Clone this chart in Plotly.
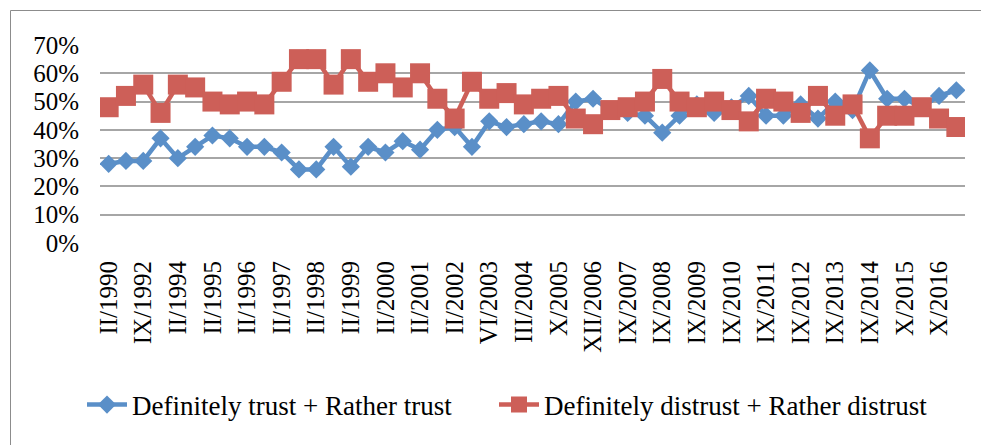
import plotly.graph_objects as go

tick_labels = ["II/1990", "IX/1992", "II/1994", "II/1995", "II/1996", "II/1997", "II/1998",
               "II/1999", "II/2000", "II/2001", "II/2002", "VI/2003", "III/2004", "X/2005",
               "XII/2006", "IX/2007", "IX/2008", "IX/2009", "IX/2010", "IX/2011", "IX/2012",
               "IX/2013", "IX/2014", "X/2015", "X/2016"]

trust = [28, 29, 29, 37, 30, 34, 38, 37, 34, 34, 32, 26, 26, 34, 27, 34, 32, 36, 33, 40,
         41, 34, 43, 41, 42, 43, 42, 50, 51, 47, 46, 45, 39, 45, 49, 46, 48, 52, 45, 45,
         49, 44, 50, 47, 61, 51, 51, 48, 52, 54]
distrust = [48, 52, 56, 46, 56, 55, 50, 49, 50, 49, 57, 65, 65, 56, 65, 57, 60, 55, 60, 51,
            44, 57, 51, 53, 49, 51, 52, 44, 42, 47, 48, 50, 58, 50, 48, 50, 47, 43, 51, 50,
            46, 52, 45, 49, 37, 45, 45, 48, 44, 41]

x = list(range(len(trust)))
trust_f = [v / 100 for v in trust]
distrust_f = [v / 100 for v in distrust]

BLUE = "#5A8FC8"
RED = "#CD5F58"
FONT = "Times New Roman, Liberation Serif, DejaVu Serif, serif"

fig = go.Figure()
fig.add_trace(go.Scatter(
    x=x, y=trust_f, mode="lines+markers", name="Definitely trust + Rather trust",
    line=dict(color=BLUE, width=4.5),
    marker=dict(symbol="diamond", size=14, color=BLUE),
    legend="legend",
))
fig.add_trace(go.Scatter(
    x=x, y=distrust_f, mode="lines+markers", name="Definitely distrust + Rather distrust",
    line=dict(color=RED, width=4.5),
    marker=dict(symbol="square", size=20, color=RED),
    legend="legend2",
))

# the page body adds an 8px offset; coordinates below are in screen pixels
OFF = 8
W, H = 989 - OFF, 445 - OFF
L, R, T = 100 - OFF, 24, 45 - OFF
B = H - T - 198
pw = W - L - R
ph = H - T - B

def px_x(p):
    return (p - OFF - L) / pw

def px_y(p):
    return (T + ph - (p - OFF)) / ph

legend_common = dict(
    orientation="h", xanchor="left", y=px_y(405), yanchor="middle",
    font=dict(family=FONT, size=27, color="black"),
    itemwidth=40, bgcolor="rgba(0,0,0,0)",
)

fig.update_layout(
    width=W, height=H,
    margin=dict(l=L, r=R, t=T, b=B, pad=0, autoexpand=False),
    paper_bgcolor="white", plot_bgcolor="white",
    font=dict(family=FONT, size=25, color="black"),
    showlegend=True,
    legend=dict(x=px_x(82), **legend_common),
    legend2=dict(x=px_x(494), **legend_common),
    xaxis=dict(
        range=[-0.5, len(x) - 0.5],
        tickmode="array",
        tickvals=x[::2],
        ticktext=tick_labels,
        tickangle=-90,
        showgrid=False, zeroline=False, showline=False, automargin=False,
        ticks="", ticklabelstandoff=12,
        tickfont=dict(family=FONT, size=25, color="black"),
    ),
    yaxis=dict(
        range=[0, 0.7],
        tickmode="array",
        tickvals=[0, 0.1, 0.2, 0.3, 0.4, 0.5, 0.6, 0.7],
        tickformat=".0%",
        showgrid=True, gridcolor="#A6A6A6", gridwidth=1.5, automargin=False,
        zeroline=False, showline=False, ticks="", ticklabelstandoff=20,
        tickfont=dict(family=FONT, size=25, color="black"),
    ),
    shapes=[dict(
        type="rect", xref="paper", yref="paper",
        x0=px_x(10.5), x1=px_x(1000), y0=px_y(460), y1=px_y(10.5),
        line=dict(color="#8C8C8C", width=1), fillcolor="rgba(0,0,0,0)", layer="below",
    )],
)

fig.write_html("out.html")
